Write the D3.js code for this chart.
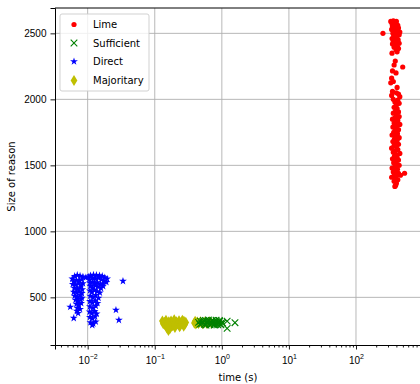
<!DOCTYPE html>
<html>
<head>
<meta charset="utf-8">
<script src="https://cdn.jsdelivr.net/npm/d3@7"></script>
<style>
  body { margin: 0; background: #fff; }
  svg { display: block; font-family: "DejaVu Sans", sans-serif; }
</style>
</head>
<body>
<div id="chart"></div>
<script>
// series values: [time (s), size of reason]
const limePts = [
  [330,2590],[360,2595],[400,2590],[345,2570],[380,2575],[420,2560],[350,2550],[390,2545],
  [430,2540],[340,2530],[370,2525],[410,2520],[450,2510],[355,2500],[395,2495],[440,2490],
  [252,2500],[365,2480],[405,2470],[345,2460],[385,2455],[425,2450],[360,2440],[400,2430],
  [440,2425],[350,2420],[380,2410],[415,2400],[370,2395],[430,2385],[395,2375],[410,2360],
  [344,2350],[385,2290],[370,2260],[497,2245],[350,2215],[395,2200],[340,2160],
  [360,2135],[330,2125],[410,2090],
  [350,2060],[400,2050],[430,2040],[340,2030],[450,2020],[360,2000],[420,1995],[380,1980],
  [440,1970],[400,1960],[370,1940],[410,1930],[390,1915],[430,1905],[360,1895],[400,1880],
  [440,1870],[380,1860],[350,1850],[420,1840],[395,1830],[370,1820],[450,1810],[405,1800],
  [355,1790],[385,1780],[430,1770],[400,1760],[365,1750],[415,1740],[345,1730],[390,1720],
  [440,1710],[375,1700],[410,1690],[355,1680],[395,1670],[430,1660],[370,1650],[400,1640],
  [340,1630],[420,1620],[385,1610],[360,1600],[450,1590],[395,1580],[375,1570],[410,1560],
  [350,1550],[430,1540],[390,1530],[365,1520],[405,1510],[440,1500],[380,1490],[345,1480],
  [415,1470],[395,1460],[360,1450],[430,1440],[530,1440],[375,1430],[460,1425],[400,1420],
  [340,1410],[385,1400],[420,1390],[370,1380],[400,1365],[390,1350],[380,1340]
];

const sufficientPts = [
  [0.45,310],[0.48,320],[0.50,300],[0.52,315],[0.55,295],[0.57,325],[0.60,305],[0.62,318],
  [0.65,298],[0.68,312],[0.70,322],[0.72,302],[0.75,315],[0.78,295],[0.80,308],[0.83,320],
  [0.85,300],[0.88,312],[0.90,305],[0.93,318],[0.95,298],[1.00,310],[1.03,305],[0.47,295],
  [0.53,325],[0.58,290],[0.63,328],[0.67,292],[0.73,326],[0.77,290],[0.82,327],[0.87,292],
  [0.92,325],[0.97,292],[1.20,320],[1.20,265],[1.57,308]
];

const directPts = [
  [0.0059,640],[0.0064,660],[0.0070,668],[0.0077,662],[0.0085,655],[0.0094,650],
  [0.0062,620],[0.0068,630],[0.0075,625],[0.0082,635],
  [0.0060,600],[0.0066,595],[0.0073,605],[0.0080,590],[0.0085,605],
  [0.0063,570],[0.0070,565],[0.0077,575],[0.0083,560],
  [0.0062,540],[0.0069,535],[0.0075,545],[0.0082,530],
  [0.0064,510],[0.0070,500],[0.0077,515],[0.0082,495],
  [0.0066,480],[0.0072,470],[0.0079,485],
  [0.0068,450],[0.0074,440],[0.0080,455],
  [0.0070,420],[0.0077,410],
  [0.0055,427],[0.0069,396],[0.0062,343],[0.0072,380],
  [0.0102,655],[0.0110,665],[0.0122,670],[0.0135,668],[0.0150,665],[0.0165,660],[0.0180,650],
  [0.0195,640],[0.0106,635],[0.0118,645],[0.0130,640],[0.0145,648],[0.0160,635],[0.0175,625],
  [0.0190,615],[0.0108,610],[0.0118,615],[0.0128,605],[0.0140,612],[0.0155,600],[0.0170,605],
  [0.0109,585],[0.0118,575],[0.0130,590],[0.0142,580],[0.0158,570],[0.0170,585],
  [0.0108,550],[0.0116,540],[0.0127,555],[0.0138,545],[0.0152,535],
  [0.0109,510],[0.0120,500],[0.0132,515],[0.0145,495],
  [0.0108,470],[0.0118,460],[0.0130,475],[0.0140,455],
  [0.0108,430],[0.0120,420],[0.0132,435],
  [0.0107,390],[0.0116,380],[0.0127,395],[0.0136,375],
  [0.0108,350],[0.0118,340],[0.0129,355],
  [0.0110,310],[0.0121,300],[0.0132,315],[0.0117,290],
  [0.0336,623],[0.0264,404],[0.0292,328]
];

const majoritaryPts = [
  [0.130,320],[0.134,300],[0.139,310],[0.143,290],[0.147,325],[0.152,305],[0.157,280],
  [0.162,315],[0.166,295],[0.168,262],[0.160,250],[0.152,268],[0.175,320],[0.180,300],
  [0.185,285],[0.190,310],[0.195,330],[0.200,295],[0.210,315],[0.220,300],[0.230,322],
  [0.240,290],[0.250,312],[0.258,326],[0.265,300],[0.272,318],[0.280,295],[0.290,310],
  [0.270,282],[0.235,278],[0.200,272],[0.390,305],[0.400,318],[0.410,298],[0.430,312],
  [0.450,302],[0.480,315],[0.520,300],[0.560,312],[0.600,302],[0.650,315],[0.700,305]
];

const seriesNames = ["Lime", "Sufficient", "Direct", "Majoritary"];
const seriesColors = ["#ff0000", "#008000", "#0000ff", "#bfbf00"];
const xMajorTicks = [1e-2, 1e-1, 1e0, 1e1, 1e2];
const xTickExps = ["\u22122", "\u22121", "0", "1", "2"];
const yTicks = [500, 1000, 1500, 2000, 2500];

const W = 420, H = 384;
const plotLeft = 55, plotRight = 421, plotTop = 8, plotBottom = 345;

const svg = d3.select("#chart").append("svg")
  .attr("width", W).attr("height", H);

const x = d3.scaleLog().domain([Math.pow(10, -2.487), Math.pow(10, 2.969)]).range([plotLeft, plotRight]);
const y = d3.scaleLinear().domain([139, 2692]).range([plotBottom, plotTop]);

// grid
const grid = svg.append("g");
grid.selectAll("line.gx").data(xMajorTicks).join("line")
  .attr("x1", d => x(d)).attr("x2", d => x(d))
  .attr("y1", plotTop).attr("y2", plotBottom)
  .attr("stroke", "#b0b0b0").attr("stroke-width", 0.9);
grid.selectAll("line.gy").data(yTicks).join("line")
  .attr("x1", plotLeft).attr("x2", plotRight)
  .attr("y1", d => y(d)).attr("y2", d => y(d))
  .attr("stroke", "#b0b0b0").attr("stroke-width", 0.9);

// markers
const plot = svg.append("g");

plot.selectAll("circle.lime").data(limePts).join("circle")
  .attr("cx", d => x(d[0])).attr("cy", d => y(d[1]))
  .attr("r", 2.6).attr("fill", seriesColors[0]);

const diamond = (s) => `M0,${-s}L${s * 0.6},0L0,${s}L${-s * 0.6},0Z`;
plot.selectAll("path.maj").data(majoritaryPts).join("path")
  .attr("transform", d => `translate(${x(d[0])},${y(d[1])})`)
  .attr("d", diamond(5.6)).attr("fill", seriesColors[3]);

const cross = (s) => `M${-s},${-s}L${s},${s}M${-s},${s}L${s},${-s}`;
plot.selectAll("path.suf").data(sufficientPts).join("path")
  .attr("transform", d => `translate(${x(d[0])},${y(d[1])})`)
  .attr("d", cross(3.3)).attr("fill", "none")
  .attr("stroke", seriesColors[1]).attr("stroke-width", 1.1);

const star = d3.symbol().type(d3.symbolStar).size(19);
plot.selectAll("path.dir").data(directPts).join("path")
  .attr("transform", d => `translate(${x(d[0])},${y(d[1])})`)
  .attr("d", star).attr("fill", seriesColors[2]);

// axes
const xAxis = svg.append("g").attr("transform", `translate(0,${plotBottom})`)
  .call(d3.axisBottom(x).tickValues(xMajorTicks).tickSize(4.5).tickFormat(""));
const minorTicks = [];
for (let e = -3; e <= 2; e++) for (let m = 2; m <= 9; m++) {
  const v = m * Math.pow(10, e);
  if (x(v) >= plotLeft && x(v) <= plotRight) minorTicks.push(v);
}
svg.append("g").attr("transform", `translate(0,${plotBottom})`)
  .call(d3.axisBottom(x).tickValues(minorTicks).tickSize(2.5).tickFormat(""))
  .call(g => g.select(".domain").remove());

xAxis.selectAll(".tick text").remove();
xAxis.selectAll(".tick").append("text")
  .attr("y", 19).attr("fill", "#000")
  .attr("text-anchor", "middle")
  .attr("font-size", 10)
  .each(function (d, i) {
    const t = d3.select(this);
    t.append("tspan").text("10");
    t.append("tspan").attr("dy", -5).attr("font-size", 7).text(xTickExps[i]);
  });

const yAxis = svg.append("g").attr("transform", `translate(${plotLeft},0)`)
  .call(d3.axisLeft(y).tickValues(yTicks).tickSize(4.5).tickPadding(4).tickFormat(d3.format("d")));
yAxis.selectAll(".tick text").attr("font-size", 10).attr("fill", "#000");

svg.selectAll(".domain").attr("stroke", "#000").attr("stroke-width", 1);
svg.selectAll(".tick line").attr("stroke", "#000").attr("stroke-width", 0.9);

// top and right spines
svg.append("line").attr("x1", plotLeft).attr("x2", plotRight).attr("y1", plotTop).attr("y2", plotTop)
  .attr("stroke", "#000").attr("stroke-width", 1);
svg.append("line").attr("x1", plotRight).attr("x2", plotRight).attr("y1", plotTop).attr("y2", plotBottom)
  .attr("stroke", "#000").attr("stroke-width", 1);

// labels
svg.append("text").attr("x", (plotLeft + plotRight) / 2).attr("y", 381)
  .attr("text-anchor", "middle").attr("font-size", 10).text("time (s)");
svg.append("text").attr("transform", `translate(15,${(plotTop + plotBottom) / 2}) rotate(-90)`)
  .attr("text-anchor", "middle").attr("font-size", 10).text("Size of reason");

// legend
const legend = svg.append("g").attr("transform", "translate(60,14)");
legend.append("rect").attr("width", 89).attr("height", 77).attr("rx", 2)
  .attr("fill", "#fff").attr("fill-opacity", 0.8)
  .attr("stroke", "#cccccc").attr("stroke-width", 0.9);
const rowY = [10.5, 29, 47.5, 66.5];
seriesNames.forEach((name, i) => {
  const g = legend.append("g").attr("transform", `translate(14,${rowY[i]})`);
  if (i === 0) g.append("circle").attr("r", 2.6).attr("fill", seriesColors[0]);
  if (i === 1) g.append("path").attr("d", cross(3.3)).attr("fill", "none")
    .attr("stroke", seriesColors[1]).attr("stroke-width", 1.1);
  if (i === 2) g.append("path").attr("d", star).attr("fill", seriesColors[2]);
  if (i === 3) g.append("path").attr("d", diamond(5.6)).attr("fill", seriesColors[3]);
  g.append("text").attr("x", 19).attr("y", 3.6).attr("font-size", 10).text(name);
});
</script>
</body>
</html>
